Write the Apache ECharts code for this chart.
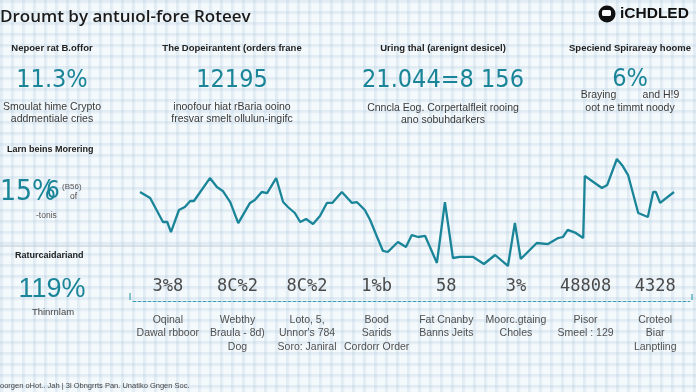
<!DOCTYPE html>
<html>
<head>
<meta charset="utf-8">
<script src="https://cdn.jsdelivr.net/npm/echarts@6/dist/echarts.min.js"></script>
<style>
html,body{margin:0;padding:0;}
body{
  width:696px;height:392px;overflow:hidden;
  background-color:#f4f9fc;
  background-image:
    linear-gradient(to right, rgba(165,195,215,0.24) 0, rgba(165,195,215,0.24) 2px, transparent 4px),
    linear-gradient(to bottom, rgba(165,195,215,0.24) 0, rgba(165,195,215,0.24) 2px, transparent 4px);
  background-size:11px 11px;
}
#chart{width:696px;height:392px;}
</style>
</head>
<body>
<div id="chart"></div>
<script>
// ---- data ----
const days = [0,1.9,4.3,5.1,5.8,7.3,8.4,9.4,10.1,13.1,14.4,15.5,16.9,18.4,20.6,21.5,22.8,23.8,25.5,25.8,26.8,27.7,29.0,30.0,31.1,32.4,33.7,35.0,36.0,37.8,39.7,40.6,42.1,43.1,44.4,45.5,46.4,48.3,49.8,50.9,52.1,53.4,55.6,57.1,58.6,59.9,62.4,64.4,66.5,68.9,70.2,71.3,74.3,76.4,78.3,79.2,80.1,81.6,83.0,83.3,86.5,87.5,89.3,90.4,91.4,93.3,95.1,96.1,96.6,97.4,100];
const values = [72.0,68.0,52.0,52.0,45.3,60.0,62.0,66.0,66.0,81.3,75.3,72.7,65.3,51.3,64.7,66.7,72.0,71.3,81.3,80.7,65.3,62.0,58.0,52.0,54.0,50.7,56.0,64.7,64.7,72.0,64.7,65.3,60.0,53.3,42.0,32.7,32.0,38.7,35.3,43.3,42.0,42.7,24.7,65.3,28.0,28.7,28.7,24.0,30.0,22.7,51.3,27.3,38.0,37.3,41.3,42.0,46.7,44.7,41.3,82.7,74.7,76.7,94.0,89.3,83.3,58.0,55.3,72.0,72.0,64.7,72.0];
const categoryNames = ["Oqinal\nDawal rbboor","Webthy\nBraula - 8d)\nDog","Loto, 5,\nUnnor's 784\nSoro: Janiral","Bood\nSarids\nCordorr Order","Fat Cnanby\nBanns Jeits","Moorc.gtaing\nCholes","Pisor\nSmeel : 129","Croteol\nBiar\nLanptling"];
const categoryValues = ["3%8","8C%2","8C%2","1%b","58","3%","48808","4328"];
const kpiTitles = ["Nepoer rat B.offor","The Dopeirantent (orders frane","Uring thal (arenignt desicel)","Speciend Spirareay hoome"];
const kpiValues = ["11.3%","12195","21.044=8 156","6%"];
const kpiNotes = [["Smoulat hime Crypto","addmentiale cries"],["inoofour hiat rBaria ooino","fresvar smelt ollulun-ingifc"],["Cnncla Eog. Corpertalfleit rooing","ano sobuhdarkers"],["Braying         and H!9","oot ne timmt noody"]];

const TEAL = '#1a8598';
const chart = echarts.init(document.getElementById('chart'), null, {renderer:'canvas'});
const lineData = days.map((d,i)=>[d, values[i]]);

const g = [];
function txt(x,y,text,font,fill,align){
  g.push({type:'text', x:x, y:y, silent:true, style:{text:text, font:font, fill:fill, align:align||'center', verticalAlign:'middle'}});
}
// separator + axis end ticks
g.push({type:'line', shape:{x1:0,y1:246,x2:696,y2:246}, style:{stroke:'#bfcad3',lineWidth:1}});
g.push({type:'line', shape:{x1:130,y1:293,x2:130,y2:300}, style:{stroke:'#3a9fb3',lineWidth:1.2}});
g.push({type:'line', shape:{x1:692,y1:294,x2:692,y2:300}, style:{stroke:'#3a9fb3',lineWidth:1.2}});
// title
txt(0,17,"Droumt by antuıol-fore Roteev","600 17px 'Open Sans', sans-serif",'#1b1b1b','left');
// logo
g.push({type:'circle', shape:{cx:607,cy:14,r:8.5}, style:{fill:'#111'}});
g.push({type:'rect', shape:{x:602,y:10,width:9,height:6,r:1.5}, style:{fill:'#fff'}});
txt(620,14,"iCHDLED","bold 15.5px 'Liberation Sans', sans-serif",'#111','left');
// top KPI blocks
const kx = [52,232,443,630];
const valFont = "500 25px 'DejaVu Sans Condensed', sans-serif";
for(let i=0;i<4;i++){
  txt(kx[i],48,kpiTitles[i],"bold 9.5px 'Liberation Sans', sans-serif",'#222');
  txt(kx[i], i===3?79:80, kpiValues[i], valFont, TEAL);
  const ny = i===3 ? [95,108] : (i===2?[108,120]:[107,119]);
  txt(kx[i],ny[0],kpiNotes[i][0],"10.5px 'Liberation Sans', sans-serif",'#3a3a3a');
  txt(kx[i],ny[1],kpiNotes[i][1],"10.5px 'Liberation Sans', sans-serif",'#3a3a3a');
}
// left blocks
txt(7,150,"Larn beins Morering","bold 9px 'Liberation Sans', sans-serif",'#222','left');
txt(0,193,"15%","28px 'DejaVu Sans Condensed', sans-serif",TEAL,'left');
txt(46,192,"6","24px 'DejaVu Sans Condensed', sans-serif",TEAL,'left');
txt(62,187,"(B56)","8px 'Liberation Sans', sans-serif",'#555','left');
txt(70,197,"of","8.5px 'Liberation Sans', sans-serif",'#444','left');
txt(36,216,"-tonis","8.5px 'Liberation Sans', sans-serif",'#555','left');
txt(15,256,"Raturcaidariand","bold 9px 'Liberation Sans', sans-serif",'#222','left');
txt(52,290,"119%","27px 'Liberation Sans', sans-serif",TEAL);
txt(53,312,"Thinrnlam","9.5px 'Liberation Sans', sans-serif",'#444');
// footer
txt(0,386,"oorgen oHot.. Jah | 3l Obngrrts Pan. Unatiko Gngen Soc.","7.5px 'Liberation Sans', sans-serif",'#444','left');

chart.setOption({
  backgroundColor:'transparent',
  animation:false,
  grid:[
    {left:140,right:22,top:150,bottom:92},
    {left:133,right:6,top:300,height:1}
  ],
  xAxis:[
    {type:'value',gridIndex:0,min:0,max:100,show:false},
    {type:'category',gridIndex:1,position:'bottom',data:categoryNames,
      axisLine:{show:true,lineStyle:{color:'#3a9fb3',type:[3,2],width:1}},
      axisTick:{show:false},
      axisLabel:{margin:12,color:'#505050',fontSize:10.5,lineHeight:13.5,fontFamily:"'Liberation Sans', sans-serif",interval:0}},
    {type:'category',gridIndex:1,position:'top',data:categoryValues,
      axisLine:{show:false},axisTick:{show:false},
      axisLabel:{margin:5,color:'#4a4a4a',fontSize:17,fontFamily:"'DejaVu Sans Mono', monospace",interval:0}}
  ],
  yAxis:[
    {type:'value',gridIndex:0,min:0,max:100,show:false},
    {type:'value',gridIndex:1,show:false}
  ],
  series:[{
    type:'line',xAxisIndex:0,yAxisIndex:0,data:lineData,
    showSymbol:false,smooth:false,
    lineStyle:{color:TEAL,width:2.3}
  }],
  graphic:g
});
</script>
</body>
</html>
